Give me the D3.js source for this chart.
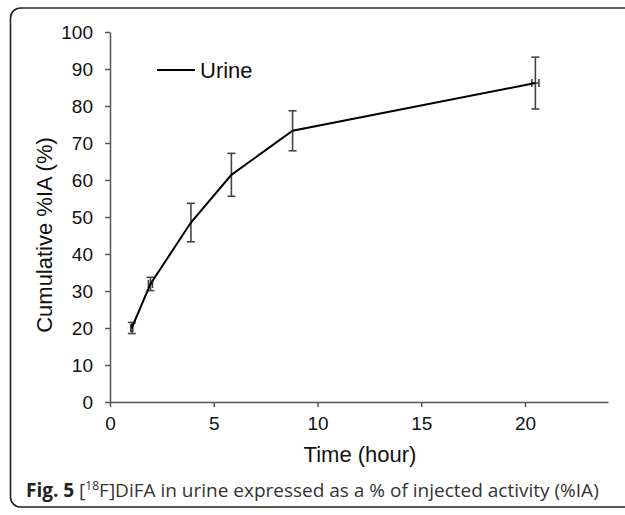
<!DOCTYPE html>
<html>
<head>
<meta charset="utf-8">
<script src="https://cdn.jsdelivr.net/npm/d3@7"></script>
<style>
  body { margin: 0; background: #fff; }
  text { font-family: "Liberation Sans", Arial, sans-serif; }
  .caption { font-family: "Open Sans", "Noto Sans", sans-serif; }
</style>
</head>
<body>
<div id="chart"></div>
<script>
// urine data
var times = [1.05, 1.95, 3.9, 5.85, 8.8, 20.5];
var urine = [20.0, 31.9, 48.5, 61.4, 73.3, 86.2];
var urineErr = [1.5, 1.8, 5.2, 5.8, 5.4, 7.0];
var timeErr = [0.05, 0.1, 0, 0, 0, 0.17];
var xTicks = [0, 5, 10, 15, 20];
var yTicks = [0, 10, 20, 30, 40, 50, 60, 70, 80, 90, 100];

var svgWidth = 625;
var svgHeight = 515;
var margin = { top: 32, right: 17, bottom: 113, left: 110 };
var width = svgWidth - margin.left - margin.right;
var height = svgHeight - margin.top - margin.bottom;

var svg = d3.select("#chart")
  .append("svg")
  .attr("width", svgWidth)
  .attr("height", svgHeight);

// rounded frame, runs off the right edge
svg.append("rect")
  .attr("x", 10.5)
  .attr("y", 8)
  .attr("width", 640)
  .attr("height", 499)
  .attr("rx", 10)
  .attr("fill", "none")
  .attr("stroke", "#222")
  .attr("stroke-width", 1.6);

var chart = svg.append("g")
  .attr("transform", `translate(${margin.left}, ${margin.top})`);

var xScale = d3.scaleLinear().domain([0, 24]).range([0, width]);
var yScale = d3.scaleLinear().domain([0, 100]).range([height, 0]);

var bottomAxis = d3.axisBottom(xScale).tickValues(xTicks).tickSize(5).tickSizeOuter(0).tickPadding(6);
var leftAxis = d3.axisLeft(yScale).tickValues(yTicks).tickSize(5).tickSizeOuter(0).tickPadding(12);

var xg = chart.append("g")
  .attr("transform", `translate(0, ${height})`)
  .call(bottomAxis);
var yg = chart.append("g").call(leftAxis);

[xg, yg].forEach(function (g) {
  g.attr("font-family", null).attr("font-size", null);
  g.selectAll("path, line").attr("stroke", "#555").attr("stroke-width", 1.5);
  g.selectAll("text")
    .attr("fill", "#111")
    .attr("font-size", 19);
});
yg.selectAll("text").attr("dy", "0.36em");
xg.selectAll("text").attr("dy", "0.9em");

var data = times.map(function (t, i) {
  return { t: t, v: urine[i], e: urineErr[i], te: timeErr[i] };
});

// error bars
var errGroup = chart.append("g")
  .attr("stroke", "#444")
  .attr("stroke-width", 1.6)
  .attr("fill", "none");

data.forEach(function (d) {
  var x = xScale(d.t);
  var y0 = yScale(d.v - d.e);
  var y1 = yScale(d.v + d.e);
  errGroup.append("line").attr("x1", x).attr("x2", x).attr("y1", y0).attr("y2", y1);
  errGroup.append("line").attr("x1", x - 4).attr("x2", x + 4).attr("y1", y0).attr("y2", y0);
  errGroup.append("line").attr("x1", x - 4).attr("x2", x + 4).attr("y1", y1).attr("y2", y1);
  if (d.te > 0) {
    var xa = xScale(d.t - d.te);
    var xb = xScale(d.t + d.te);
    var y = yScale(d.v);
    errGroup.append("line").attr("x1", xa).attr("x2", xb).attr("y1", y).attr("y2", y);
    errGroup.append("line").attr("x1", xa).attr("x2", xa).attr("y1", y - 4).attr("y2", y + 4);
    errGroup.append("line").attr("x1", xb).attr("x2", xb).attr("y1", y - 4).attr("y2", y + 4);
  }
});

var line = d3.line()
  .x(d => xScale(d.t))
  .y(d => yScale(d.v));

chart.append("path")
  .datum(data)
  .attr("d", line)
  .attr("fill", "none")
  .attr("stroke", "#000")
  .attr("stroke-width", 2);

// legend
svg.append("line")
  .attr("x1", 157).attr("x2", 195)
  .attr("y1", 70).attr("y2", 70)
  .attr("stroke", "#000")
  .attr("stroke-width", 2);
svg.append("text")
  .attr("x", 200)
  .attr("y", 78)
  .attr("font-size", 22)
  .attr("fill", "#111")
  .text("Urine");

// axis titles
svg.append("text")
  .attr("transform", "translate(52, 235) rotate(-90)")
  .attr("text-anchor", "middle")
  .attr("font-size", 22)
  .attr("fill", "#111")
  .text("Cumulative %IA (%)");

svg.append("text")
  .attr("x", 360)
  .attr("y", 462)
  .attr("text-anchor", "middle")
  .attr("font-size", 22)
  .attr("fill", "#111")
  .text("Time (hour)");

// caption
var caption = svg.append("text")
  .attr("class", "caption")
  .attr("x", 26)
  .attr("y", 497)
  .attr("font-size", 19)
  .attr("fill", "#333");
caption.append("tspan").attr("font-weight", "bold").attr("fill", "#222").text("Fig. 5");
caption.append("tspan").text(" [");
caption.append("tspan").attr("font-size", 12).attr("dy", -7).text("18");
caption.append("tspan").attr("dy", 7).text("F]DiFA in urine expressed as a % of injected activity (%IA)");
</script>
</body>
</html>
